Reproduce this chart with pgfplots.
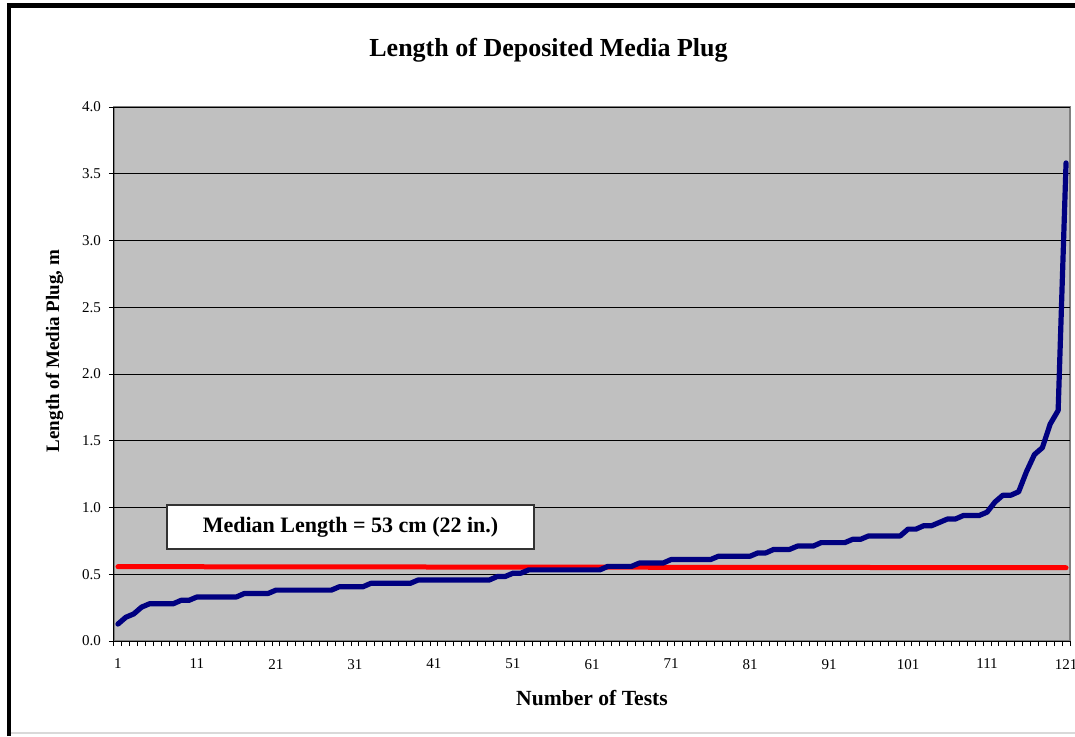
\documentclass[border=0pt]{standalone}
\usepackage{fontspec}
\setmainfont{Liberation Serif}
\usepackage{pgfplots}
\pgfplotsset{compat=1.18}
\usepackage{pgfplotstable}

\definecolor{plotgray}{RGB}{192,192,192}
\definecolor{navyline}{RGB}{0,0,128}
\definecolor{bordergray}{RGB}{128,128,128}

% plug lengths in m, sorted (whole inches x 0.0254)
\pgfplotstableread{
test len
1 0.127
2 0.178
3 0.203
4 0.254
5 0.279
6 0.279
7 0.279
8 0.279
9 0.305
10 0.305
11 0.330
12 0.330
13 0.330
14 0.330
15 0.330
16 0.330
17 0.356
18 0.356
19 0.356
20 0.356
21 0.381
22 0.381
23 0.381
24 0.381
25 0.381
26 0.381
27 0.381
28 0.381
29 0.406
30 0.406
31 0.406
32 0.406
33 0.432
34 0.432
35 0.432
36 0.432
37 0.432
38 0.432
39 0.457
40 0.457
41 0.457
42 0.457
43 0.457
44 0.457
45 0.457
46 0.457
47 0.457
48 0.457
49 0.483
50 0.483
51 0.508
52 0.508
53 0.533
54 0.533
55 0.533
56 0.533
57 0.533
58 0.533
59 0.533
60 0.533
61 0.533
62 0.533
63 0.559
64 0.559
65 0.559
66 0.559
67 0.584
68 0.584
69 0.584
70 0.584
71 0.610
72 0.610
73 0.610
74 0.610
75 0.610
76 0.610
77 0.635
78 0.635
79 0.635
80 0.635
81 0.635
82 0.660
83 0.660
84 0.686
85 0.686
86 0.686
87 0.711
88 0.711
89 0.711
90 0.737
91 0.737
92 0.737
93 0.737
94 0.762
95 0.762
96 0.787
97 0.787
98 0.787
99 0.787
100 0.787
101 0.838
102 0.838
103 0.864
104 0.864
105 0.889
106 0.914
107 0.914
108 0.940
109 0.940
110 0.940
111 0.965
112 1.041
113 1.092
114 1.092
115 1.118
116 1.270
117 1.397
118 1.448
119 1.626
120 1.727
121 3.581
}\plugdata

\begin{document}
\begin{tikzpicture}
\useasboundingbox (-57pt,-47.5pt) rectangle (480.5pt,320.5pt);
\fill[white] (-57pt,-47.5pt) rectangle (480.5pt,320.5pt);
% outer frame of the figure
\draw[black, line width=2pt] (-52.5pt,-47.5pt) -- (-52.5pt,318.9pt);
\draw[black, line width=2.5pt] (-53.5pt,317.75pt) -- (480.5pt,317.75pt);
\draw[black!15, line width=0.6pt] (-51.5pt,-46pt) -- (480.5pt,-46pt);

\begin{axis}[
    scale only axis,
    width=478pt,
    height=267pt,
    xmin=0.5, xmax=121.5,
    ymin=0, ymax=4,
    axis lines=left,
    axis line style={-, black, line width=0.5pt},
    axis background/.style={fill=plotgray, draw=bordergray, line width=0.6pt},
    xtick={1,11,...,121},
    minor xtick={0.5,1.5,...,121.5},
    major x tick style={draw=none},
    minor x tick style={black, line width=0.5pt},
    ytick={0,0.5,...,4},
    y tick style={black, line width=0.5pt},
    tick align=outside,
    major tick length=2.5pt,
    minor tick length=2.5pt,
    ymajorgrids,
    major grid style={black, line width=0.5pt},
    /pgf/number format/assume math mode=true,
    tick label style={font=\fontsize{7.5}{9}\selectfont},
    xticklabel style={yshift=-3pt},
    yticklabel style={xshift=-0.5pt, /pgf/number format/fixed, /pgf/number format/fixed zerofill, /pgf/number format/precision=1},
    title={Length of Deposited Media Plug},
    title style={at={(axis description cs:0.4545,1.073)}, anchor=base, font=\fontsize{13}{15}\selectfont\bfseries},
    xlabel={Number of Tests},
    xlabel style={at={(axis description cs:0.5,-0.1199)}, anchor=base, font=\fontsize{10.8}{13}\selectfont\bfseries},
    ylabel={Length of Media Plug, m},
    ylabel style={at={(axis description cs:-0.0575,0.543)}, anchor=base, rotate=0, font=\fontsize{9.5}{11}\selectfont\bfseries},
]
\addplot[red, line width=2.5pt, line cap=round] coordinates {(1,0.557) (121,0.549)};
\addplot[navyline, line width=2.6pt, line cap=round, line join=round] table[x=test, y=len] {\plugdata};
\node[draw=black!80, fill=white, line width=0.6pt, minimum width=183.5pt, minimum height=22pt, inner sep=0pt,
      font=\fontsize{11}{13}\selectfont\bfseries] at (axis cs:30.44,0.854) {Median Length = 53 cm (22 in.)};
\end{axis}
\end{tikzpicture}
\end{document}
